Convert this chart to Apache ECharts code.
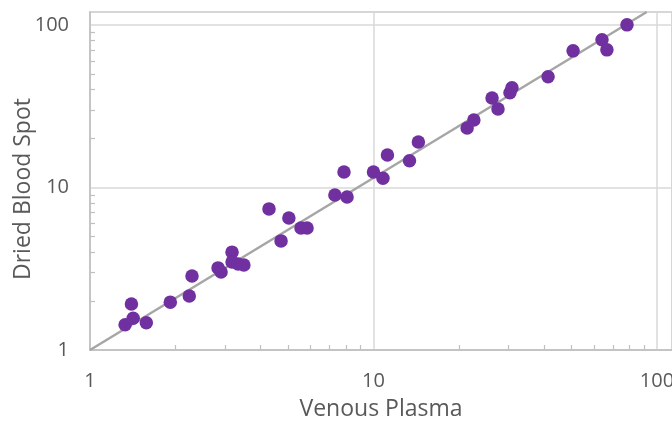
<!DOCTYPE html>
<html><head><meta charset="utf-8">
<script src="https://cdn.jsdelivr.net/npm/echarts@6/dist/echarts.min.js"></script>
<style>html,body{margin:0;padding:0;background:#fff}#c{width:672px;height:421px}</style>
</head><body><div id="c"></div>
<script>
// Venous plasma (x) vs dried blood spot (y)
const plasma = [1.33,1.40,1.42,1.58,1.92,2.24,2.29,2.83,2.90,3.17,3.17,3.33,3.49,4.28,4.72,5.03,5.55,5.83,7.31,7.87,8.07,10.0,10.8,11.2,13.4,14.4,21.4,22.6,26.2,27.5,30.3,30.8,41.3,50.6,64.0,66.6,78.4];
const dbs    = [1.43,1.92,1.57,1.47,1.97,2.15,2.85,3.20,3.02,4.00,3.48,3.38,3.33,7.38,4.69,6.49,5.63,5.63,8.99,12.45,8.74,12.45,11.4,15.85,14.6,19.05,23.2,26.0,35.5,30.4,38.2,41.0,47.9,69.2,80.9,70.2,100];
const trendX = [1, 92];
const trendY = [1, 120];
const tickLabels = [1, 10, 100];
const minorTicks = [2,3,4,5,6,7,8,9,20,30,40,50,60,70,80,90];

const font = '"Open Sans", "Noto Sans", sans-serif';
const chart = echarts.init(document.getElementById('c'), null, {renderer: 'canvas'});
const mainAxis = {
  type: 'log', logBase: 10, min: 1,
  axisLine: {show: true, lineStyle: {color: '#bfbfbf', width: 1.5}},
  axisTick: {show: false},
  minorTick: {show: false},
  splitLine: {show: true, lineStyle: {color: '#d9d9d9', width: 1.5}},
  axisLabel: {customValues: tickLabels, color: '#595959', fontSize: 20, fontFamily: font, margin: 21},
  nameLocation: 'middle',
  nameMoveOverlap: false,
  nameTextStyle: {color: '#595959', fontSize: 23, fontFamily: font}
};
const minorAxis = {
  type: 'log', logBase: 10, min: 1,
  axisLine: {show: false},
  axisTick: {show: true, inside: true, length: 5, customValues: minorTicks, lineStyle: {color: '#bfbfbf', width: 1.2}},
  axisLabel: {show: false},
  splitLine: {show: false},
  minorTick: {show: false}
};
chart.setOption({
  animation: false,
  backgroundColor: '#fff',
  grid: {left: 90, right: 0, top: 12, bottom: 71, show: true, borderColor: '#bfbfbf', borderWidth: 1.5,
         containLabel: false, outerBoundsMode: 'none'},
  xAxis: [
    Object.assign({}, mainAxis, {max: 113, name: 'Venous Plasma', nameGap: 48}),
    Object.assign({}, minorAxis, {max: 113, position: 'bottom'})
  ],
  yAxis: [
    Object.assign({}, mainAxis, {max: 120, name: 'Dried Blood Spot', nameGap: 55,
      nameTextStyle: {color: '#595959', fontSize: 23, fontFamily: font, padding: [0, 16, 0, 0]}}),
    Object.assign({}, minorAxis, {max: 120, position: 'left'})
  ],
  series: [
    {type: 'line', xAxisIndex: 0, yAxisIndex: 0, data: trendX.map((x, i) => [x, trendY[i]]), symbol: 'none',
     lineStyle: {color: '#a6a6a6', width: 2.5}, silent: true, z: 1},
    {type: 'scatter', xAxisIndex: 0, yAxisIndex: 0, data: plasma.map((x, i) => [x, dbs[i]]), symbolSize: 13.5,
     itemStyle: {color: '#7030a0', opacity: 1}, z: 2}
  ]
});
</script></body></html>
